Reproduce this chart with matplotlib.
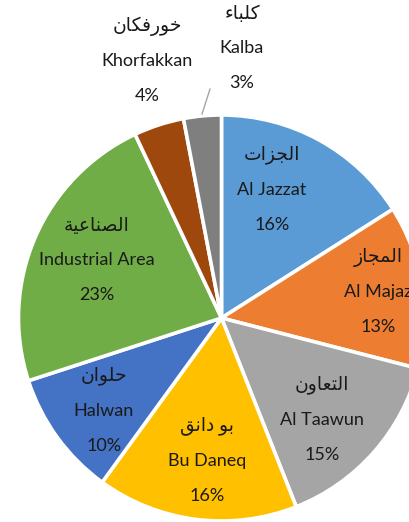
import matplotlib
matplotlib.use("Agg")
import matplotlib.pyplot as plt
import numpy as np

# Districts and their shares (%)
names_en = ["Al Jazzat", "Al Majaz", "Al Taawun", "Bu Daneq", "Halwan",
            "Industrial Area", "Khorfakkan", "Kalba"]
names_ar = ["الجزات", "المجاز", "التعاون", "بو دانق", "حلوان",
            "الصناعية", "خورفكان", "كلباء"]
shares = [16, 13, 15, 16, 10, 23, 4, 3]
colors = ["#5B9BD5", "#ED7D31", "#A5A5A5", "#FFC000", "#4472C4",
          "#70AD47", "#9E480E", "#7F7F7F"]

# --- minimal Arabic shaping (contextual forms + visual order) ---
FORMS = {  # isolated, final, initial, medial
    "ء": ("\uFE80", None, None, None),
    "ا": ("\uFE8D", "\uFE8E", None, None),
    "ب": ("\uFE8F", "\uFE90", "\uFE91", "\uFE92"),
    "ة": ("\uFE93", "\uFE94", None, None),
    "ت": ("\uFE95", "\uFE96", "\uFE97", "\uFE98"),
    "ج": ("\uFE9D", "\uFE9E", "\uFE9F", "\uFEA0"),
    "ح": ("\uFEA1", "\uFEA2", "\uFEA3", "\uFEA4"),
    "خ": ("\uFEA5", "\uFEA6", "\uFEA7", "\uFEA8"),
    "د": ("\uFEA9", "\uFEAA", None, None),
    "ر": ("\uFEAD", "\uFEAE", None, None),
    "ز": ("\uFEAF", "\uFEB0", None, None),
    "ص": ("\uFEB9", "\uFEBA", "\uFEBB", "\uFEBC"),
    "ع": ("\uFEC9", "\uFECA", "\uFECB", "\uFECC"),
    "ف": ("\uFED1", "\uFED2", "\uFED3", "\uFED4"),
    "ق": ("\uFED5", "\uFED6", "\uFED7", "\uFED8"),
    "ك": ("\uFED9", "\uFEDA", "\uFEDB", "\uFEDC"),
    "ل": ("\uFEDD", "\uFEDE", "\uFEDF", "\uFEE0"),
    "م": ("\uFEE1", "\uFEE2", "\uFEE3", "\uFEE4"),
    "ن": ("\uFEE5", "\uFEE6", "\uFEE7", "\uFEE8"),
    "و": ("\uFEED", "\uFEEE", None, None),
    "ي": ("\uFEF1", "\uFEF2", "\uFEF3", "\uFEF4"),
}


def joins_next(ch):
    f = FORMS.get(ch)
    return f is not None and f[2] is not None


def joins_prev(ch):
    f = FORMS.get(ch)
    return f is not None and f[1] is not None


def shape(word):
    out = []
    for i, ch in enumerate(word):
        if ch not in FORMS:
            out.append(ch)
            continue
        prev = word[i - 1] if i > 0 else None
        nxt = word[i + 1] if i + 1 < len(word) else None
        left = prev is not None and joins_next(prev) and joins_prev(ch)
        right = nxt is not None and joins_next(ch) and joins_prev(nxt)
        iso, fin, ini, med = FORMS[ch]
        if left and right:
            g = med
        elif left:
            g = fin
        elif right:
            g = ini
        else:
            g = iso
        out.append(g)
    return "".join(reversed(out))


W, H = 410, 522
R_PX = 203.0
CX, CY = 221.5, 318.0  # pie centre in pixels from top-left

fig = plt.figure(figsize=(W / 100, H / 100), dpi=100)
ax = fig.add_axes([0, 0, 1, 1])

ax.pie(shares, colors=colors, startangle=90, counterclock=False, radius=1.0,
       wedgeprops=dict(edgecolor="white", linewidth=2.6))

ax.set_xlim(-CX / R_PX, (W - CX) / R_PX)
ax.set_ylim(-(H - CY) / R_PX, CY / R_PX)
ax.axis("off")

# label anchor positions (pixel coordinates of the middle line)
label_px = [(272, 190), (378, 292), (322, 420), (207, 461), (104, 411),
            (97, 260), (147, 61), (242, 48)]
gap = 35

fam = ["Lato", "DejaVu Sans"]
for en, ar, s, (px, py) in zip(names_en, names_ar, shares, label_px):
    x = (px - CX) / R_PX
    for k, txt in enumerate([shape(ar), en, f"{s}%"]):
        y = (CY - (py + (k - 1) * gap)) / R_PX
        size = 13.5 if k == 0 else 13
        ax.text(x, y, txt, ha="center", va="center", fontsize=size,
                family=fam, color="#1a1a1a")

# leader line for the smallest slice
ax.plot([(210 - CX) / R_PX, (202 - CX) / R_PX],
        [(CY - 89) / R_PX, (CY - 114) / R_PX], color="#A6A6A6", lw=1.0)

fig.savefig("out.png", dpi=100)
